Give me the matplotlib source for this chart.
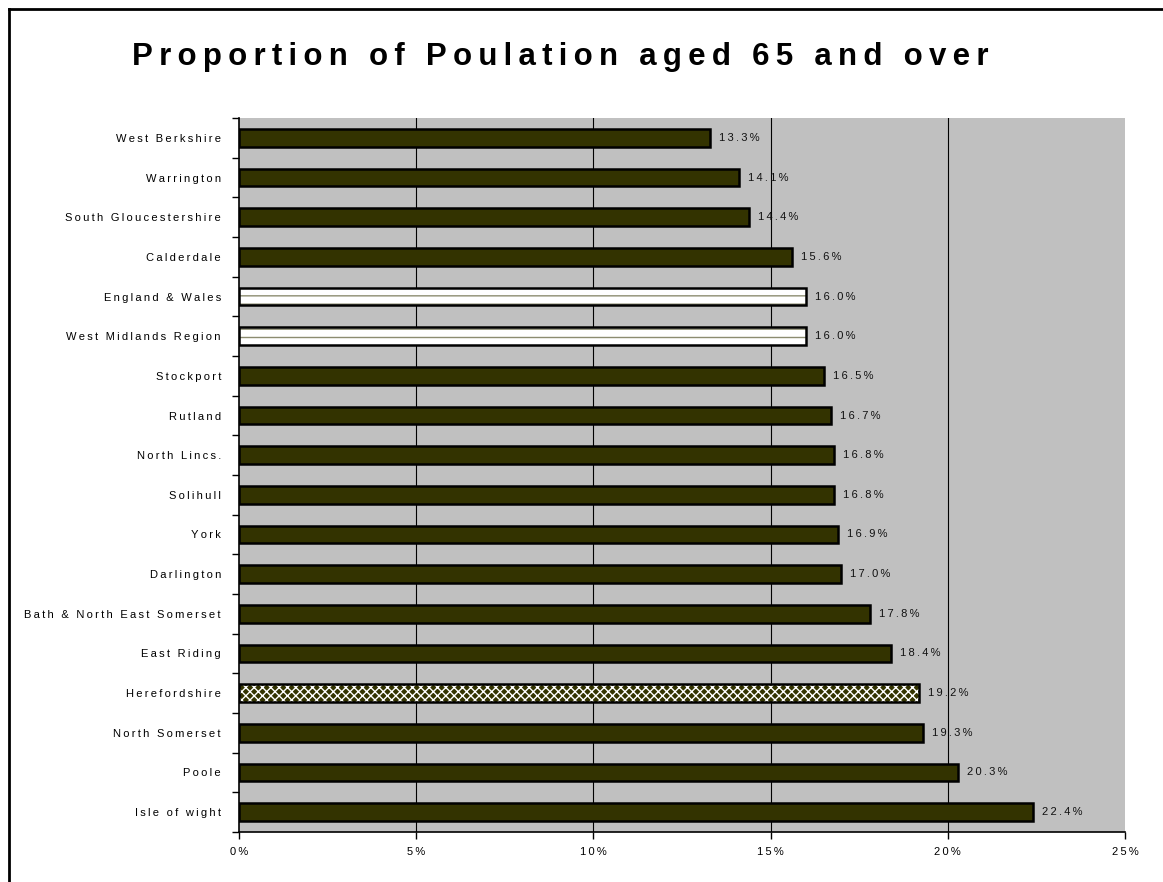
import matplotlib.pyplot as plt
from matplotlib.lines import Line2D
from matplotlib.ticker import FixedLocator, FuncFormatter

plt.rcParams['font.family'] = ['Liberation Sans', 'DejaVu Sans']
plt.rcParams['hatch.linewidth'] = 1.0

# Share of residents aged 65+, by area (percent)
areas = ['West Berkshire', 'Warrington', 'South Gloucestershire', 'Calderdale',
         'England & Wales', 'West Midlands Region', 'Stockport', 'Rutland',
         'North Lincs.', 'Solihull', 'York', 'Darlington',
         'Bath & North East Somerset', 'East Riding', 'Herefordshire',
         'North Somerset', 'Poole', 'Isle of wight']
pct_65_plus = [13.3, 14.1, 14.4, 15.6, 16.0, 16.0, 16.5, 16.7, 16.8, 16.8,
               16.9, 17.0, 17.8, 18.4, 19.2, 19.3, 20.3, 22.4]
comparators = ['England & Wales', 'West Midlands Region']
home_area = 'Herefordshire'
x_ticks = [0, 5, 10, 15, 20, 25]


def spaced(s):
    # wide letter spacing, like the old spreadsheet export
    return '\u2009'.join(s)


fig = plt.figure(figsize=(11.63, 8.82), dpi=100)
ax = fig.add_axes([0.2055, 0.0567, 0.7618, 0.8095])
ax.set_facecolor('#C0C0C0')

ypos = list(range(len(areas)))
for y, name, val in zip(ypos, areas, pct_65_plus):
    if name in comparators:
        ax.barh(y, val, height=0.45, color='white', edgecolor='#8C8C70',
                hatch='--', linewidth=0, zorder=3)
    elif name == home_area:
        ax.barh(y, val, height=0.45, color='#333300', edgecolor='white',
                hatch='xxxx', linewidth=0, zorder=3)
    else:
        ax.barh(y, val, height=0.45, color='#333300', linewidth=0, zorder=3)
    # outline drawn separately so hatch colour stays independent
    ax.barh(y, val, height=0.45, fill=False, edgecolor='black',
            linewidth=1.8, zorder=4)
    ax.text(val + 0.25, y, spaced(f'{val:.1f}%'), va='center', ha='left',
            fontsize=8, color='#111111', zorder=5)

for g in x_ticks[1:-1]:
    ax.axvline(g, color='black', linewidth=0.8, zorder=1)

ax.set_xlim(0, 25)
ax.set_ylim(len(areas) - 0.5, -0.5)

ax.xaxis.set_major_locator(FixedLocator(x_ticks))
ax.xaxis.set_major_formatter(FuncFormatter(lambda v, p: spaced(f'{v:.0f}%')))
ax.tick_params(axis='x', direction='out', length=5, width=1, pad=6,
               labelsize=8)

ax.set_yticks(ypos)
ax.set_yticklabels([spaced(a) for a in areas])
ax.set_yticks([i - 0.5 for i in range(len(areas) + 1)], minor=True)
ax.tick_params(axis='y', which='major', length=0, pad=13, labelsize=8)
ax.tick_params(axis='y', which='minor', direction='out', length=5, width=1)

for side in ['top', 'right']:
    ax.spines[side].set_visible(False)
ax.spines['left'].set_linewidth(1.2)
ax.spines['bottom'].set_linewidth(1.2)

fig.text(0.482, 0.935, spaced('Proportion of Poulation aged 65 and over'),
         ha='center', va='center', fontsize=22.5, fontweight='bold')

# chart frame, top and left edges
fig.add_artist(Line2D([9 / 1163, 1], [1 - 9 / 882] * 2, color='black',
                      linewidth=2, transform=fig.transFigure))
fig.add_artist(Line2D([9 / 1163] * 2, [0, 1 - 9 / 882], color='black',
                      linewidth=2, transform=fig.transFigure))

fig.savefig('out.png', dpi=100)
